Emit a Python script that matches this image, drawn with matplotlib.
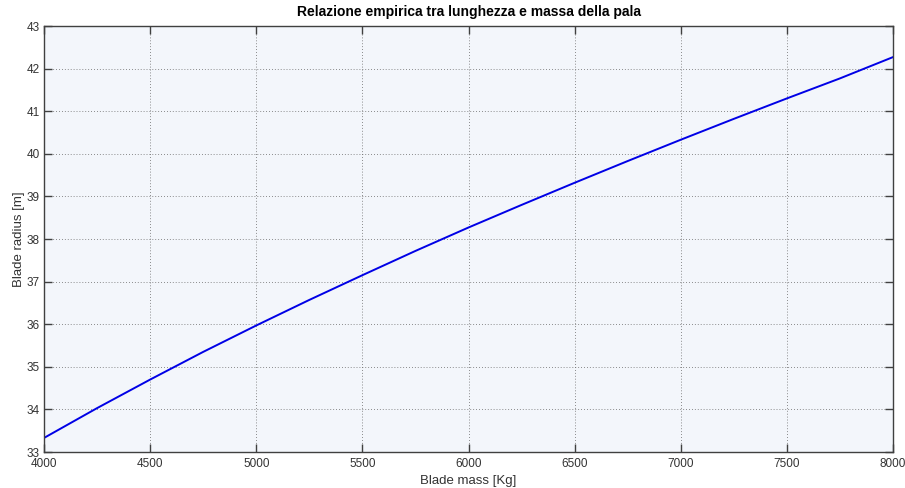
import matplotlib
matplotlib.use("Agg")
import matplotlib.pyplot as plt

plt.rcParams['font.family'] = ['Liberation Sans', 'DejaVu Sans']

# Blade mass [Kg] and corresponding blade radius [m]
blade_mass = [4000, 4250, 4500, 4750, 5000, 5250, 5500, 5750, 6000,
              6250, 6500, 6750, 7000, 7250, 7500, 7750, 8000]
blade_radius = [33.33, 34.03, 34.70, 35.35, 35.97, 36.57, 37.15, 37.72, 38.27,
                38.80, 39.32, 39.83, 40.33, 40.82, 41.30, 41.77, 42.27]

x_ticks = [4000, 4500, 5000, 5500, 6000, 6500, 7000, 7500, 8000]
y_ticks = [33, 34, 35, 36, 37, 38, 39, 40, 41, 42, 43]

fig = plt.figure(figsize=(9.05, 4.88), dpi=100)
ax = fig.add_axes([44 / 905, 1 - 452 / 488, (893 - 44) / 905, (452 - 26) / 488])
ax.set_facecolor('#f3f6fb')

ax.plot(blade_mass, blade_radius, color='#0000e6', linewidth=1.4)

ax.set_xlim(4000, 8000)
ax.set_ylim(33, 43)
ax.set_xticks(x_ticks)
ax.set_yticks(y_ticks)
ax.tick_params(direction='in', length=6, width=1, color='#404040',
               top=True, right=True, labelsize=8.5, labelcolor='#333333', pad=3)
ax.tick_params(axis='x', pad=4)
for s in ax.spines.values():
    s.set_color('#404040')
    s.set_linewidth(1)

ax.grid(True, linestyle=(0, (1, 2.5)), color='#666666', linewidth=0.6)

ax.set_title('Relazione empirica tra lunghezza e massa della pala',
             fontsize=10, fontweight='bold', pad=7)
ax.set_xlabel('Blade mass [Kg]', fontsize=9.5, color='#333333', labelpad=4)
ax.set_ylabel('Blade radius [m]', fontsize=9.5, color='#333333', labelpad=1)

fig.savefig('out.png', dpi=100, facecolor='white')
